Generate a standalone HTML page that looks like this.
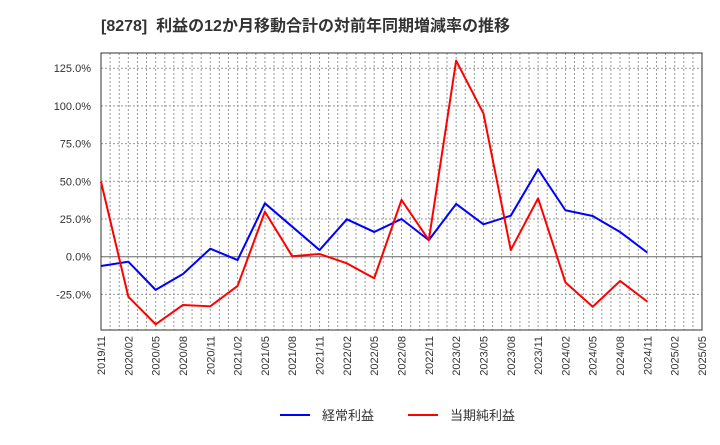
<!DOCTYPE html>
<html><head><meta charset="utf-8"><style>
body{margin:0;background:#fff;}
svg text{font-family:"Liberation Sans","Noto Sans CJK JP",sans-serif;}
</style></head><body>
<svg id="chart" width="720" height="440" xmlns="http://www.w3.org/2000/svg">
<text x="101" y="31" font-size="16" font-weight="bold" fill="#333" xml:space="preserve" style="white-space:pre">[8278]  利益の12か月移動合計の対前年同期増減率の推移</text>
<g id="grid"></g><g id="axes"></g><g id="series"></g>
<g>
<line x1="280" y1="415" x2="310" y2="415" stroke="#0000ff" stroke-width="2"/>
<text x="322" y="420" font-size="13" fill="#333">経常利益</text>
<line x1="408" y1="415" x2="438" y2="415" stroke="#ff0000" stroke-width="2"/>
<text x="450" y="420" font-size="13" fill="#333">当期純利益</text>
</g>
</svg>
<script>
const xLabels=["2019/11","2020/02","2020/05","2020/08","2020/11","2021/02","2021/05","2021/08","2021/11","2022/02","2022/05","2022/08","2022/11","2023/02","2023/05","2023/08","2023/11","2024/02","2024/05","2024/08","2024/11","2025/02","2025/05"];
const yTicks=[-25,0,25,50,75,100,125];
const ordinaryProfit=[-6.2,-3.3,-22,-11.5,5.3,-2.2,35.4,19.9,4.4,24.8,16.4,25,11,35,21.5,27.2,58,30.8,27,16.4,2.7];
const netIncome=[49.7,-26.5,-44.8,-32,-32.9,-19.4,29.8,0.3,1.8,-4.4,-14.3,37.6,11,130,95,4.4,38.7,-17,-33.2,-16.1,-29.8];
const X0=101,X1=702,Y0=53,Y1=330,ZERO=256.7,PER=37.7/25;
const step=(X1-X0)/(xLabels.length-1);
const xs=i=>X0+i*step, ys=v=>ZERO-v*PER;
const NS="http://www.w3.org/2000/svg";
function mk(t,a,p){const e=document.createElementNS(NS,t);for(const k in a)e.setAttribute(k,a[k]);p.appendChild(e);return e;}
const grid=document.getElementById('grid'),axes=document.getElementById('axes'),ser=document.getElementById('series');
for(let m=0;m<=66;m++){const x=X0+m*step/3;const l=mk('line',{x1:x,y1:Y0,x2:x,y2:Y1,stroke:'#999','stroke-dasharray':'2,2','stroke-width':1},grid);

}
yTicks.forEach(v=>{const y=ys(v);const l=mk('line',{x1:X0,y1:y,x2:X1,y2:y,stroke:v===0?'#666':'#999','stroke-dasharray':v===0?'none':'2,2','stroke-width':1},grid);


const t=mk('text',{x:91,y:y+4,'font-size':11,'text-anchor':'end',fill:'#333'},axes);t.textContent=v.toFixed(1)+'%';

});
xLabels.forEach((s,i)=>{const x=xs(i);const t=mk('text',{x:0,y:0,'font-size':11,'text-anchor':'end',fill:'#333',transform:`translate(${x+4},336) rotate(-90)`},axes);t.textContent=s;

});
const fr=mk('rect',{x:X0,y:Y0,width:X1-X0,height:Y1-Y0,fill:'none',stroke:'#333','stroke-width':1},axes);


function line(data,color,name){const p=mk('polyline',{points:data.map((v,i)=>xs(i)+','+ys(v)).join(' '),fill:'none',stroke:color,'stroke-width':2,'stroke-linejoin':'round'},ser);

}
line(ordinaryProfit,'#0000ff','ordinary-profit-line');
line(netIncome,'#ff0000','net-income-line');
</script>
</body></html>
